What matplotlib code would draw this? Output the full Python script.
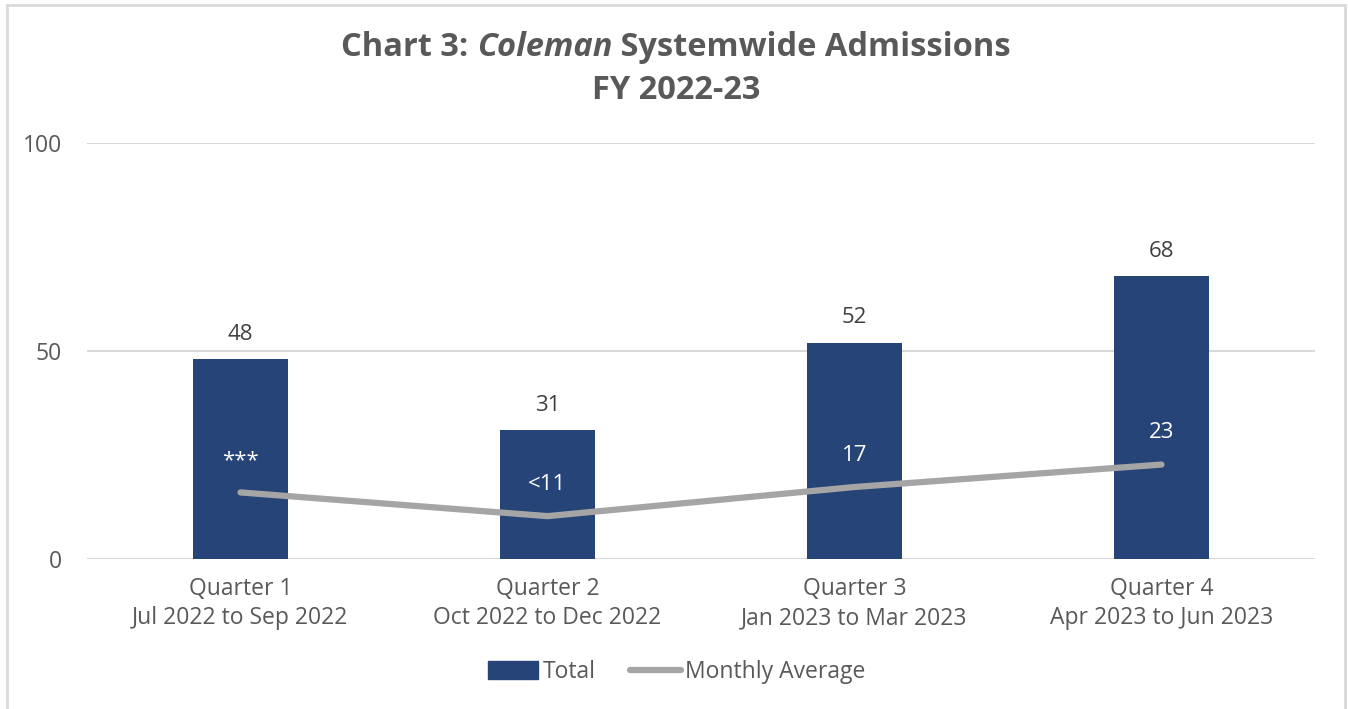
import numpy as np
import matplotlib
matplotlib.use("Agg")
import matplotlib.pyplot as plt
from matplotlib.lines import Line2D

plt.rcParams['font.family'] = ['Open Sans', 'DejaVu Sans']

quarters = ["Quarter 1\nJul 2022 to Sep 2022", "Quarter 2\nOct 2022 to Dec 2022",
            "Quarter 3\nJan 2023 to Mar 2023", "Quarter 4\nApr 2023 to Jun 2023"]
totals = [48, 31, 52, 68]
monthly_avg = [16, 10.3, 17.3, 22.7]
avg_labels = ["***", "<11", "17", "23"]

bar_color = "#264478"
line_color = "#A5A5A5"
text_color = "#595959"

fig = plt.figure(figsize=(13.48, 7.09), dpi=100)
ax = fig.add_axes([0.0645, 0.2116, 0.911, 0.5867])

x = np.arange(len(quarters))
ax.bar(x, totals, width=0.31, color=bar_color, zorder=2, label="Total")
ax.plot(x, monthly_avg, color=line_color, lw=4.5, solid_capstyle="round",
        solid_joinstyle="round", zorder=3, label="Monthly Average")

# data labels
for xi, v in zip(x, totals):
    ax.annotate(str(v), (xi, v), xytext=(0, 18), textcoords="offset points",
                ha="center", va="center", fontsize=16, color="#404040")
for xi, v, lab in zip(x, monthly_avg, avg_labels):
    ax.annotate(lab, (xi, v), xytext=(0, 23), textcoords="offset points",
                ha="center", va="center", fontsize=16, color="white", zorder=4)

ax.set_xlim(-0.5, 3.5)
ax.set_ylim(0, 100)
ax.set_yticks([0, 50, 100])
ax.set_xticks(x)
ax.set_xticklabels(quarters, fontsize=16.5, color=text_color, linespacing=1.3)
ax.tick_params(axis="y", labelsize=16.5, labelcolor=text_color, length=0, pad=18)
ax.tick_params(axis="x", length=0, pad=13)
ax.grid(axis="y", color="#D9D9D9", lw=1.5, zorder=0)
for s in ax.spines.values():
    s.set_visible(False)

# legend
handles = [plt.Rectangle((0, 0), 1, 1, color=bar_color),
           Line2D([], [], color=line_color, lw=4.5, solid_capstyle="round")]
fig.legend(handles, ["Total", "Monthly Average"], loc="center", bbox_to_anchor=(0.502, 0.052),
           ncol=2, frameon=False, fontsize=16.5, labelcolor=text_color,
           handlelength=2.2, handleheight=0.85, handletextpad=0.2, columnspacing=1.5)

# title with italic part
fig.canvas.draw()
r = fig.canvas.get_renderer()
parts = [("Chart 3: ", "normal"), ("Coleman", "italic"), (" Systemwide Admissions", "normal")]
texts = [fig.text(0, 0.933, p, fontsize=23.5, fontweight="bold", style=st, color=text_color,
                  va="center", ha="left") for p, st in parts]
widths = [t.get_window_extent(r).width for t in texts]
xpos = 676 - sum(widths) / 2
for t, w in zip(texts, widths):
    t.set_x(xpos / fig.bbox.width)
    xpos += w
fig.text(676 / 1348, 0.872, "FY 2022-23", fontsize=23.5, fontweight="bold", color=text_color,
         ha="center", va="center")

# outer frame
fig.add_artist(Line2D([7 / 1348, 7 / 1348], [0, 1 - 5 / 709], color="#D9D9D9", lw=2))
fig.add_artist(Line2D([7 / 1348, 1345 / 1348], [1 - 5 / 709, 1 - 5 / 709], color="#D9D9D9", lw=2))
fig.add_artist(Line2D([1345 / 1348, 1345 / 1348], [0, 1 - 5 / 709], color="#D9D9D9", lw=2))

fig.savefig("out.png", dpi=100)
